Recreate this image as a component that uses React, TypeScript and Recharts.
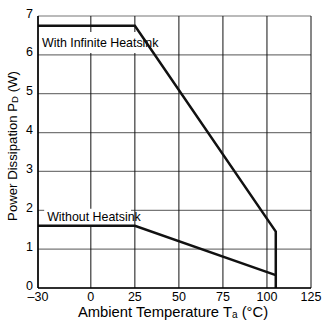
import { LineChart, Line, XAxis, YAxis, CartesianGrid, ReferenceArea, Label } from "recharts";

const xTicks = [-30, 0, 25, 50, 75, 100, 125];
const yTicks = [0, 1, 2, 3, 4, 5, 6, 7];

const infiniteTemp = [-30, 25, 105, 105];
const infinitePower = [6.75, 6.75, 1.45, 0];

const noSinkTemp = [-30, 25, 105];
const noSinkPower = [1.6, 1.6, 0.33];

const infiniteData = infiniteTemp.map((t, i) => ({ t, p: infinitePower[i] }));
const noSinkData = noSinkTemp.map((t, i) => ({ t, p: noSinkPower[i] }));

const FONT = "'Liberation Sans', Arial, sans-serif";

const fmtTick = (v: number) => (v < 0 ? `–${Math.abs(v)}` : String(v));

// y tick numbers sit a little above their grid line
function YTick(props: any) {
  const { x, y, payload } = props;
  return (
    <text x={x} y={y + 1.5} textAnchor="end" fontSize={12.5} fill="#000" fontFamily={FONT}>
      {payload.value}
    </text>
  );
}

// axis titles with a subscript letter
function XLabel() {
  return (
    <text x={173} y={317} textAnchor="middle" fontSize={14.8} fill="#000" fontFamily={FONT}>
      Ambient Temperature T<tspan fontSize={10} dy={1}>a</tspan>
      <tspan dy={-1}> (°C)</tspan>
    </text>
  );
}

function YLabel() {
  const x = 17;
  const cy = 146;
  return (
    <text x={x} y={cy} transform={`rotate(-90, ${x}, ${cy})`} textAnchor="middle" fontSize={13.2} fill="#000" fontFamily={FONT}>
      Power Dissipation P<tspan fontSize={9.5} dy={1}>D</tspan>
      <tspan dy={-1}> (W)</tspan>
    </text>
  );
}

function BoxText(text: string) {
  return (props: any) => {
    const vb = props.viewBox || {};
    return (
      <text x={vb.x + 3} y={vb.y + vb.height / 2 + 4.5} fontSize={12.4} fill="#000" fontFamily={FONT}>
        {text}
      </text>
    );
  };
}

export default function App() {
  return (
    <div style={{ position: "absolute", left: 0, top: 0, background: "#fff" }}>
      <LineChart width={323} height={322} margin={{ top: 16, right: 12, left: 8, bottom: 0 }}>
        <CartesianGrid horizontal={true} vertical={false} stroke="#777" strokeWidth={1.2} />
        <CartesianGrid horizontal={false} vertical={true} stroke="#111" strokeWidth={1} />
        <XAxis
          type="number"
          dataKey="t"
          domain={[-30, 125]}
          ticks={xTicks}
          tickFormatter={fmtTick}
          tickLine={false}
          tickSize={0}
          tickMargin={4}
          height={34}
          stroke="#000"
          strokeWidth={1.5}
          tick={{ fill: "#000", fontSize: 12.5, fontFamily: FONT }}
          allowDuplicatedCategory={false}
          label={<Label content={XLabel} />}
        />
        <YAxis
          type="number"
          dataKey="p"
          domain={[0, 7]}
          ticks={yTicks}
          tickLine={false}
          tickSize={0}
          tickMargin={5}
          width={30}
          stroke="#000"
          strokeWidth={1.5}
          tick={<YTick />}
          label={<Label content={YLabel} />}
        />
        <ReferenceArea x1={-29.4} x2={29.5} y1={6.05} y2={6.59} fill="#fff" fillOpacity={1} stroke="none" label={<Label content={BoxText("With Infinite Heatsink")} />} />
        <ReferenceArea x1={-26.5} x2={22.8} y1={1.62} y2={2.04} fill="#fff" fillOpacity={1} stroke="none" label={<Label content={BoxText("Without Heatsink")} />} />
        <Line data={infiniteData} dataKey="p" type="linear" stroke="#111" strokeWidth={2.5} dot={false} isAnimationActive={false} />
        <Line data={noSinkData} dataKey="p" type="linear" stroke="#111" strokeWidth={2.5} dot={false} isAnimationActive={false} />
      </LineChart>
    </div>
  );
}
